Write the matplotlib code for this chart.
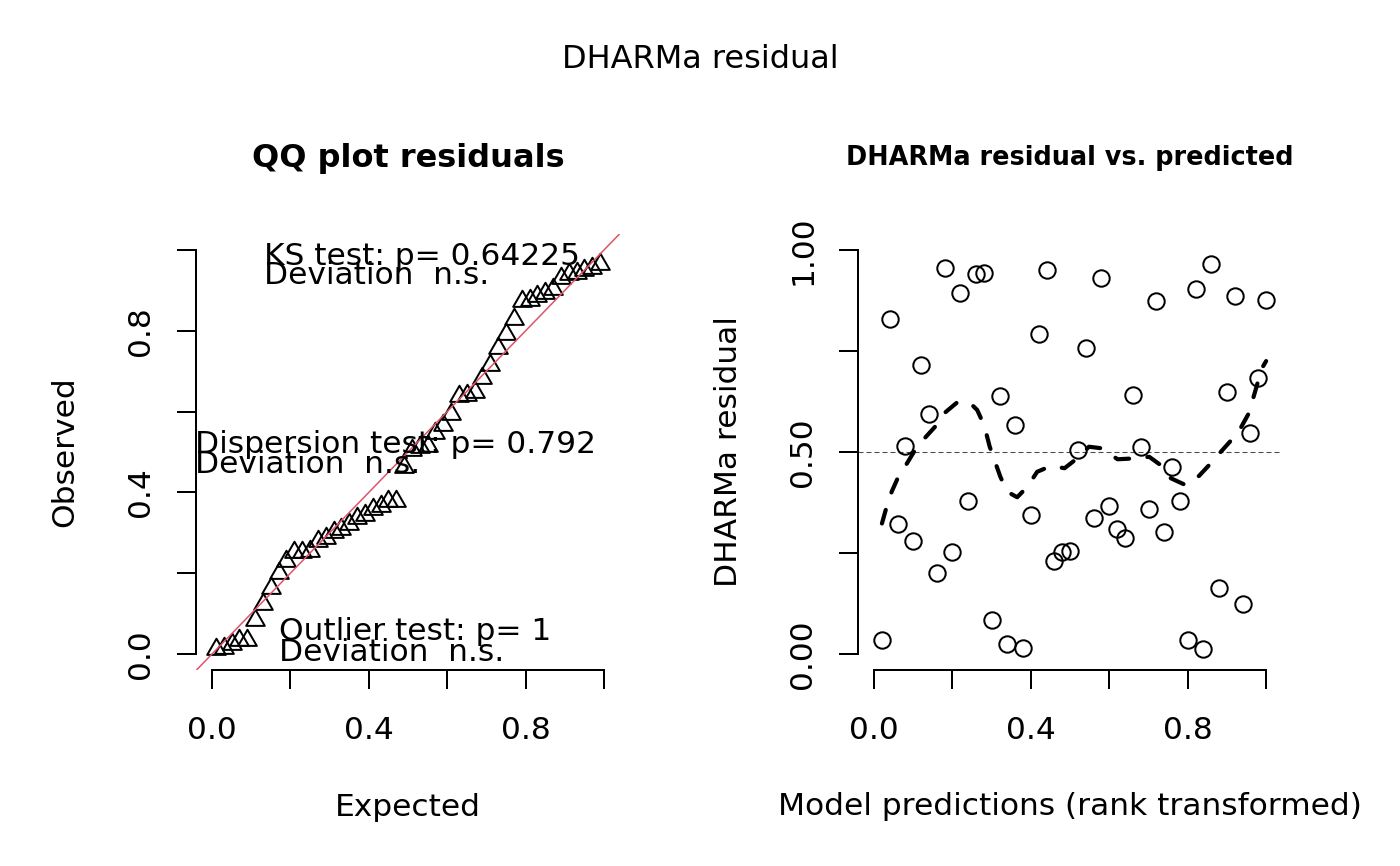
import matplotlib
matplotlib.use("Agg")
import matplotlib.pyplot as plt
from matplotlib.path import Path
from matplotlib.transforms import Bbox

plt.rcParams['font.family'] = ['DejaVu Sans']

# ---------------- data ----------------
# rank-transformed model predictions (x of right panel)
pred_rank = [0.02, 0.04, 0.06, 0.08, 0.10, 0.12, 0.14, 0.16, 0.18, 0.20,
             0.22, 0.24, 0.26, 0.28, 0.30, 0.32, 0.34, 0.36, 0.38, 0.40,
             0.42, 0.44, 0.46, 0.48, 0.50, 0.52, 0.54, 0.56, 0.58, 0.60,
             0.62, 0.64, 0.66, 0.68, 0.70, 0.72, 0.74, 0.76, 0.78, 0.80,
             0.82, 0.84, 0.86, 0.88, 0.90, 0.92, 0.94, 0.96, 0.98, 1.00]
# scaled DHARMa residuals, in order of prediction rank
residuals = [0.035, 0.828, 0.323, 0.515, 0.280, 0.716, 0.594, 0.201, 0.955, 0.252,
             0.894, 0.378, 0.940, 0.944, 0.084, 0.639, 0.024, 0.568, 0.014, 0.344,
             0.793, 0.950, 0.230, 0.253, 0.255, 0.505, 0.758, 0.337, 0.931, 0.367,
             0.309, 0.286, 0.642, 0.513, 0.360, 0.874, 0.301, 0.462, 0.379, 0.035,
             0.903, 0.013, 0.965, 0.164, 0.649, 0.887, 0.123, 0.548, 0.684, 0.875]
# expected uniform quantiles for the QQ plot
expected = [0.01, 0.03, 0.05, 0.07, 0.09, 0.11, 0.13, 0.15, 0.17, 0.19,
            0.21, 0.23, 0.25, 0.27, 0.29, 0.31, 0.33, 0.35, 0.37, 0.39,
            0.41, 0.43, 0.45, 0.47, 0.49, 0.51, 0.53, 0.55, 0.57, 0.59,
            0.61, 0.63, 0.65, 0.67, 0.69, 0.71, 0.73, 0.75, 0.77, 0.79,
            0.81, 0.83, 0.85, 0.87, 0.89, 0.91, 0.93, 0.95, 0.97, 0.99]
observed = sorted(residuals)

# median smoother
smooth_x = [0.020, 0.031, 0.045, 0.062, 0.084, 0.102, 0.126, 0.156, 0.179, 0.211,
            0.244, 0.263, 0.271, 0.284, 0.295, 0.307, 0.322, 0.339, 0.365, 0.391,
            0.416, 0.450, 0.486, 0.523, 0.548, 0.582, 0.621, 0.660, 0.702, 0.736,
            0.757, 0.795, 0.829, 0.855, 0.885, 0.910, 0.936, 0.956, 0.967, 0.978,
            0.991, 1.000]
smooth_y = [0.323, 0.361, 0.402, 0.439, 0.472, 0.501, 0.531, 0.563, 0.596, 0.622,
            0.622, 0.604, 0.587, 0.554, 0.513, 0.480, 0.439, 0.402, 0.388, 0.414,
            0.451, 0.465, 0.460, 0.488, 0.513, 0.509, 0.482, 0.484, 0.488, 0.464,
            0.435, 0.418, 0.441, 0.468, 0.501, 0.528, 0.561, 0.596, 0.633, 0.670,
            0.710, 0.725]

qq_ticks = [0.0, 0.2, 0.4, 0.6, 0.8, 1.0]
qq_ticklabels = ['0.0', '', '0.4', '', '0.8', '']
res_yticks = [0.0, 0.25, 0.5, 0.75, 1.0]
res_yticklabels = ['0.00', '', '0.50', '', '1.00']

ks_text = ["KS test: p= 0.64225", "Deviation  n.s."]
disp_text = ["Dispersion test: p= 0.792", "Deviation  n.s."]
out_text = ["Outlier test: p= 1", "Deviation  n.s."]

# ---------------- figure ----------------
W, H = 1400, 866
fig = plt.figure(figsize=(W / 100, H / 100), dpi=100)
FS = 22.5
LW = 1.44

def fx(px):
    return px / W

def fy(py):
    return 1 - py / H

ax_l = fig.add_axes([fx(196.3), fy(670.2), 423.4 / W, 436.4 / H])
ax_r = fig.add_axes([fx(858.4), fy(670.2), 423.4 / W, 436.4 / H])

def style_axis(ax, xt, xtl, yt, ytl):
    ax.set_xlim(-0.04, 1.04)
    ax.set_ylim(-0.04, 1.04)
    for s in ['top', 'right']:
        ax.spines[s].set_visible(False)
    for s in ['left', 'bottom']:
        ax.spines[s].set_linewidth(LW)
        ax.spines[s].set_bounds(0, 1)
    ax.set_xticks(xt, labels=xtl)
    ax.set_yticks(yt, labels=ytl)
    ax.tick_params(axis='both', length=13.6, width=LW, labelsize=FS, direction='out')
    ax.tick_params(axis='x', pad=36)
    ax.tick_params(axis='y', pad=20.4)
    for lab in ax.get_xticklabels():
        lab.set_va('baseline')
    for lab in ax.get_yticklabels():
        lab.set_rotation(90)
        lab.set_rotation_mode('anchor')
        lab.set_ha('center')
        lab.set_va('baseline')
    ax.patch.set_visible(False)

# ---- left: QQ plot ----
tri = Path([(0, 1.5551), (1.3468, -0.7776), (-1.3468, -0.7776), (0, 1.5551)],
           [Path.MOVETO, Path.LINETO, Path.LINETO, Path.CLOSEPOLY])
ax_l.plot(expected, observed, linestyle='none', marker=tri, ms=15.5,
          mfc='none', mec='black', mew=LW, clip_on=False)
ax_l.axline((0, 0), (1, 1), color='#DF536B', lw=1.1)
style_axis(ax_l, qq_ticks, qq_ticklabels, qq_ticks, qq_ticklabels)

# ---- right: residual vs predicted ----
ax_r.axhline(0.5, color='#4d4d4d', lw=0.8, dashes=(4.5, 2.7))
ax_r.plot(pred_rank, residuals, linestyle='none', marker='o', ms=11.8,
          mfc='none', mec='black', mew=LW, clip_on=False)
ax_r.plot(smooth_x, smooth_y, color='black', lw=3.0, dashes=(3.4, 4.4),
          dash_capstyle='round', solid_capstyle='round')
style_axis(ax_r, qq_ticks, qq_ticklabels, res_yticks, res_yticklabels)

# ---- titles and labels ----
fig.text(fx(700), fy(68.3), "DHARMa residual", ha='center', va='baseline', fontsize=23)
fig.text(fx(408), fy(166.7), "QQ plot residuals", ha='center', va='baseline',
         fontsize=23, fontweight='bold')
fig.text(fx(1069.5), fy(165), "DHARMa residual vs. predicted", ha='center',
         va='baseline', fontsize=18.4, fontweight='bold')

fig.text(fx(408), fy(816), "Expected", ha='center', va='baseline', fontsize=FS)
xl = fig.text(fx(1069.5), fy(815), "Model predictions (rank transformed)",
              ha='center', va='baseline', fontsize=FS)
xl.set_clip_box(Bbox.from_extents(0, 0, 1363, H))
xl.set_clip_on(True)

fig.text(fx(73.3), fy(452), "Observed", rotation=90, rotation_mode='anchor',
         ha='center', va='baseline', fontsize=FS)
fig.text(fx(737), fy(452), "DHARMa residual", rotation=90, rotation_mode='anchor',
         ha='center', va='baseline', fontsize=FS)

# ---- test legends (left panel) ----
def legend_block(lines, x, y1, y2):
    fig.text(fx(x), fy(y1), lines[0], ha='left', va='baseline', fontsize=FS)
    fig.text(fx(x), fy(y2), lines[1], ha='left', va='baseline', fontsize=FS)

legend_block(ks_text, 264, 265, 284)
legend_block(disp_text, 195, 452.7, 473.3)
legend_block(out_text, 279.3, 640, 660.7)

fig.savefig("out.png", dpi=100, facecolor='white')
